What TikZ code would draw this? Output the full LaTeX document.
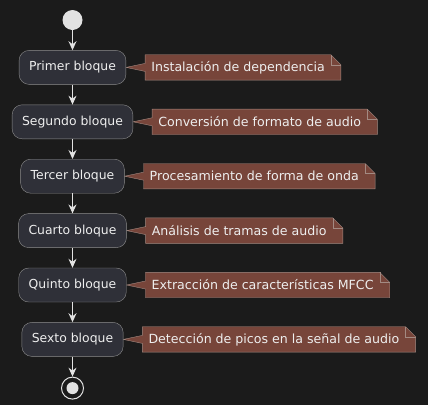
\documentclass[tikz,border=0pt]{standalone}
\usepackage{fontspec}
\setmainfont{DejaVu Sans}
\usetikzlibrary{positioning,calc,arrows.meta,backgrounds}
\definecolor{fondo}{HTML}{1B1B1B}
\definecolor{cajafondo}{HTML}{2F3038}
\definecolor{cajalinea}{HTML}{8E8E8E}
\definecolor{notafondo}{HTML}{77453A}
\definecolor{notalinea}{HTML}{A38A82}
\definecolor{texto}{HTML}{EEEEEE}
\definecolor{trazo}{HTML}{E2E2E2}
\tikzset{
  bloque/.style={draw=cajalinea, fill=cajafondo, rounded corners=10pt, minimum height=34pt,
    inner xsep=10pt, text=texto, font=\fontsize{12.4}{14}\selectfont},
  nota/.style={inner xsep=6pt, minimum height=25pt, text=texto, font=\fontsize{12.6}{14}\selectfont},
  flecha/.style={draw=trazo, line width=1pt, -{Stealth[length=9pt,width=8pt,inset=3pt]}},
}
\begin{document}
\begin{tikzpicture}[x=1pt,y=-1pt]
    \useasboundingbox (0,0) rectangle (428,405);
    % inicio y bloques
    \node[circle, fill=trazo, minimum size=20pt, inner sep=0] (inicio) at (72.5,20) {};
    \node[bloque, below=20pt of inicio] (b1) {Primer bloque};
    \node[bloque, below=20pt of b1] (b2) {Segundo bloque};
    \node[bloque, below=20pt of b2] (b3) {Tercer bloque};
    \node[bloque, below=20pt of b3] (b4) {Cuarto bloque};
    \node[bloque, below=20pt of b4] (b5) {Quinto bloque};
    \node[bloque, below=20pt of b5] (b6) {Sexto bloque};
    \node[circle, draw=trazo, line width=1pt, minimum size=22pt, inner sep=0, below=20pt of b6] (fin) {};
    \fill[trazo] (fin) circle (6pt);
    % notas
    \node[nota, right=19pt of b1] (n1) {Instalación de dependencia};
    \node[nota, right=19pt of b2] (n2) {Conversión de formato de audio};
    \node[nota, right=19pt of b3] (n3) {Procesamiento de forma de onda};
    \node[nota, right=19pt of b4] (n4) {Análisis de tramas de audio};
    \node[nota, right=19pt of b5] (n5) {Extracción de características MFCC};
    \node[nota, right=19pt of b6] (n6) {Detección de picos en la señal de audio};
    % flechas
    \draw[flecha] (inicio) -- (b1);
    \draw[flecha] (b1) -- (b2);
    \draw[flecha] (b2) -- (b3);
    \draw[flecha] (b3) -- (b4);
    \draw[flecha] (b4) -- (b5);
    \draw[flecha] (b5) -- (b6);
    \draw[flecha] (b6) -- (fin);
    \begin{scope}[on background layer]
        \fill[fondo] (0,0) rectangle (428,405);
        \foreach \b/\n in {b1/n1, b2/n2, b3/n3, b4/n4, b5/n5, b6/n6} {
            \draw[notalinea, fill=notafondo] (\n.north west) -- (\n.north east)
                -- ($(\n.north east)+(10,10)$) -- ($(\n.south east)+(10,0)$) -- (\n.south west)
                -- ($(\n.west)+(0,4)$) -- (\b.east) -- ($(\n.west)+(0,-4)$) -- cycle;
            \draw[notalinea] (\n.north east) -- ($(\n.north east)+(0,10)$) -- ($(\n.north east)+(10,10)$);
        }
    \end{scope}
\end{tikzpicture}
\end{document}
